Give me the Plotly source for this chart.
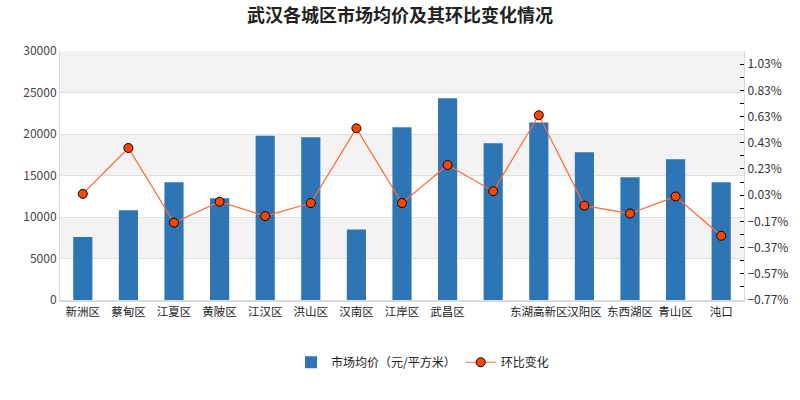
import plotly.graph_objects as go

districts = ["新洲区", "蔡甸区", "江夏区", "黄陂区", "江汉区", "洪山区", "汉南区", "江岸区",
             "武昌区", "", "东湖高新区", "汉阳区", "东西湖区", "青山区", "沌口"]
avg_price = [7600, 10800, 14200, 12250, 19800, 19600, 8500, 20800,
             24300, 18900, 21400, 17800, 14800, 16950, 14200]
mom_change = [0.04, 0.39, -0.18, -0.02, -0.13, -0.03, 0.54, -0.03,
              0.26, 0.06, 0.64, -0.05, -0.11, 0.02, -0.28]

xpos = list(range(len(districts)))
font_family = "Noto Sans CJK SC, DejaVu Sans, sans-serif"

fig = go.Figure()
fig.add_trace(go.Bar(
    x=xpos, y=avg_price, name="市场均价（元/平方米）",
    marker=dict(color="#2E75B6", line=dict(width=0)),
    width=0.42, yaxis="y",
))
fig.add_trace(go.Scatter(
    x=xpos, y=mom_change, name="环比变化", yaxis="y2", mode="lines+markers",
    line=dict(color="#FF6A33", width=1.2),
    marker=dict(symbol="circle", size=9, color="#FF4500", line=dict(color="#000000", width=1)),
))

shapes = []
for lo in (5000, 15000, 25000):
    shapes.append(dict(type="rect", xref="paper", yref="y", x0=0, x1=1, y0=lo, y1=lo + 5000,
                       fillcolor="#F3F3F3", line=dict(width=0), layer="below"))

fig.update_layout(
    width=800, height=400,
    margin=dict(l=60, r=50, t=51, b=100),
    paper_bgcolor="white", plot_bgcolor="white",
    font=dict(family=font_family, color="#333333", size=12),
    title=dict(text="<b>武汉各城区市场均价及其环比变化情况</b>", x=0.5, xanchor="center",
               y=0.96, yanchor="middle", font=dict(size=18, color="#222222")),
    xaxis=dict(
        tickmode="array", tickvals=xpos, ticktext=districts, tickangle=0,
        range=[-0.5, len(districts) - 0.5],
        showgrid=False, showline=True, linecolor="#D9D9D9", linewidth=2,
        ticks="", tickfont=dict(size=11.5, color="#222222"),
    ),
    yaxis=dict(
        range=[0, 30000], tickmode="linear", tick0=0, dtick=5000, tickformat="d",
        showgrid=True, gridcolor="#E0E0E0", gridwidth=1,
        showline=True, linecolor="#D9D9D9", linewidth=1,
        ticks="", tickfont=dict(size=12, color="#444444"), zeroline=False,
    ),
    yaxis2=dict(
        overlaying="y", side="right", range=[-0.77, 1.13],
        tickmode="linear", tick0=-0.77, dtick=0.2, tickformat=".2f", ticksuffix="%",
        showgrid=False, zeroline=False, showline=True, linecolor="#D9D9D9", linewidth=1,
        ticks="inside", ticklen=4, tickcolor="#000000",
        minor=dict(dtick=0.1, tick0=-0.77, ticks="inside", ticklen=4, tickcolor="#000000", showgrid=False),
        tickfont=dict(size=12, color="#333333"),
    ),
    legend=dict(orientation="h", x=0.53, xanchor="center", y=-0.25, yanchor="middle",
                font=dict(size=12, color="#222222"), itemwidth=30),
    shapes=shapes,
    bargap=0.5,
)

fig.write_html("out.html")
